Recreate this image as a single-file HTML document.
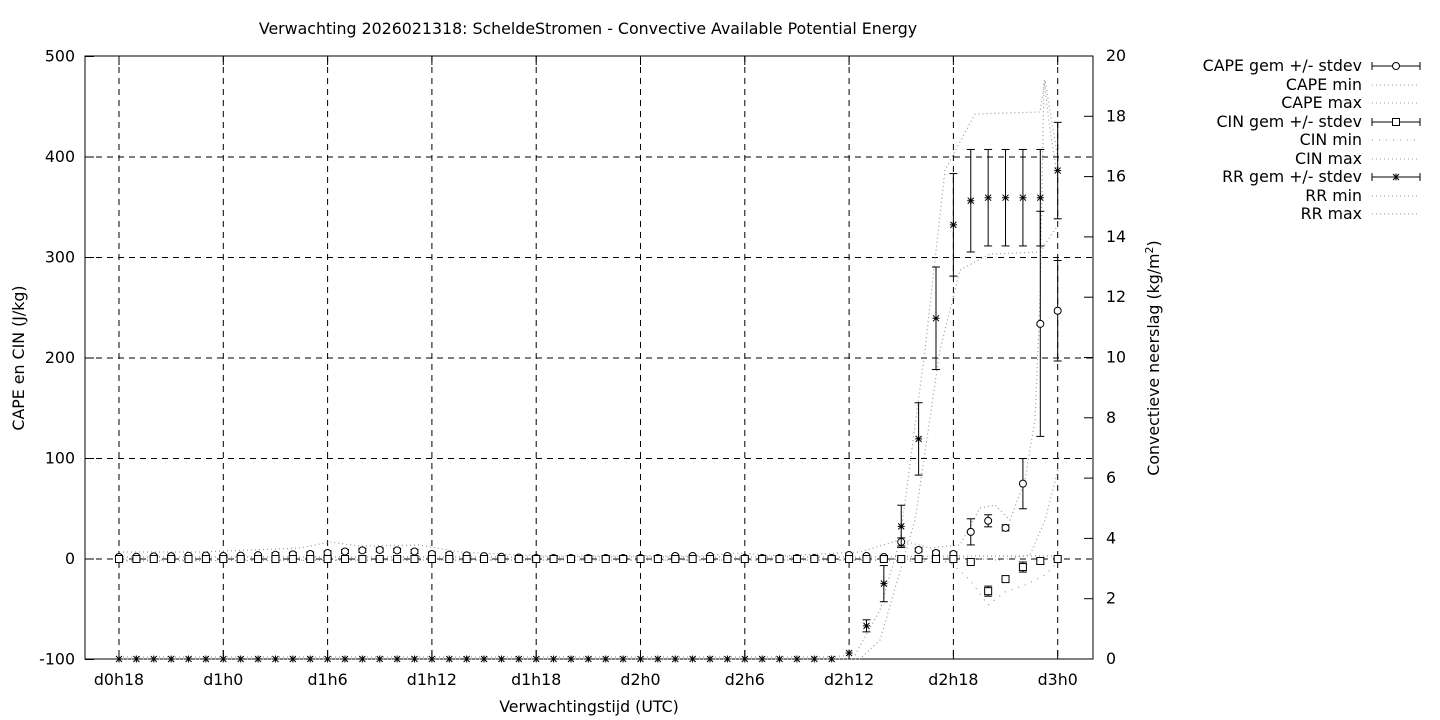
<!DOCTYPE html>
<html><head><meta charset="utf-8"><style>
html,body{margin:0;background:#fff;overflow:hidden}
svg{display:block;font-family:"DejaVu Sans","Liberation Sans",sans-serif;font-size:15.8px}
</style></head><body>
<svg id="s" width="1440" height="720" xmlns="http://www.w3.org/2000/svg">
<rect width="1440" height="720" fill="#fff"/>
<text x="588" y="34" text-anchor="middle">Verwachting 2026021318: ScheldeStromen - Convective Available Potential Energy</text>
<g id="g"></g>
<text x="589" y="712" text-anchor="middle">Verwachtingstijd (UTC)</text>
<text transform="translate(24,358) rotate(-90)" text-anchor="middle">CAPE en CIN (J/kg)</text>
<text transform="translate(1159,358) rotate(-90)" text-anchor="middle">Convectieve neerslag (kg/m<tspan dy="-6" font-size="11">2</tspan><tspan dy="6">)</tspan></text>
<g text-anchor="end">
<text x="1362" y="71">CAPE gem +/- stdev</text>
<text x="1362" y="90">CAPE min</text>
<text x="1362" y="108">CAPE max</text>
<text x="1362" y="127">CIN gem +/- stdev</text>
<text x="1362" y="145">CIN min</text>
<text x="1362" y="164">CIN max</text>
<text x="1362" y="182">RR gem +/- stdev</text>
<text x="1362" y="201">RR min</text>
<text x="1362" y="219">RR max</text>
</g>
</svg>
<script>
const g=document.getElementById('g');let h='';
const X=t=>119+(t-18)*17.383, YL=v=>559-v*1.005, YR=v=>659-v*30.15;
for(let i=0;i<10;i++){const x=119+i*104.3;h+=`<line x1="${x}" y1="56" x2="${x}" y2="659" stroke="#000" stroke-dasharray="6,5"/>`;}
for(let v=0;v<=400;v+=100){const y=YL(v);h+=`<line x1="85" y1="${y}" x2="1093" y2="${y}" stroke="#000" stroke-dasharray="6,5"/>`;}
h+=`<rect x="85" y="56" width="1008" height="603" fill="none" stroke="#000"/>`;
for(let v=-100;v<=500;v+=100){const y=YL(v);h+=`<line x1="85" y1="${y}" x2="94" y2="${y}" stroke="#000"/><text x="75" y="${y+5}" text-anchor="end">${v}</text>`;}
for(let v=0;v<=20;v+=2){const y=YR(v);h+=`<line x1="1084" y1="${y}" x2="1093" y2="${y}" stroke="#000"/><text x="1106" y="${y+5}">${v}</text>`;}
const lab=['d0h18','d1h0','d1h6','d1h12','d1h18','d2h0','d2h6','d2h12','d2h18','d3h0'];
lab.forEach((l,i)=>{const x=119+i*104.3;h+=`<line x1="${x}" y1="659" x2="${x}" y2="650" stroke="#000"/><line x1="${x}" y1="56" x2="${x}" y2="65" stroke="#000"/><text x="${x}" y="685" text-anchor="middle">${l}</text>`;});
const dl=(pts,da)=>`<polyline points="${pts}" fill="none" stroke="#999" stroke-width="1.2" stroke-dasharray="${da||'1,3'}"/>`;
h+=dl("119,552 200,552 300,548 330,542 360,546 420,545 460,552 540,556 700,556 740,553 780,556 860,552 900,540 930,548 960,545 980,508 995,505 1010,520 1025,480 1035,420 1040,300 1044,80 1050,130 1058,180");
h+=dl("119,561 400,560 860,560 960,558 1000,560 1030,555 1045,520 1058,470");
h+=dl("119,560 860,560 950,562 970,580 988,605 1005,592 1025,585 1045,575 1058,562",'1,6');
h+=dl("119,557 860,557 960,556 1058,556");
h+=dl("119,657 830,657 855,655 880,610 900,540 925,350 945,170 975,114 1040,112 1045,80 1058,160");
h+=dl("119,659 860,659 880,640 915,520 940,350 960,270 990,254 1040,252 1058,225");
const eb=(x,y1,y2)=>`<line x1="${x}" y1="${y1}" x2="${x}" y2="${y2}" stroke="#000"/><line x1="${x-4}" y1="${y1}" x2="${x+4}" y2="${y1}" stroke="#000"/><line x1="${x-4}" y1="${y2}" x2="${x+4}" y2="${y2}" stroke="#000"/>`;
const circ=(x,y)=>`<circle cx="${x}" cy="${y}" r="3.5" fill="#fff" stroke="#000"/>`;
const sq=(x,y)=>`<rect x="${x-3.5}" y="${y-3.5}" width="7" height="7" fill="#fff" stroke="#000"/>`;
const st=(x,y)=>`<path d="M${x-3.5} ${y}h7M${x} ${y-3.5}v7M${x-3} ${y-3}l6 6M${x-3} ${y+3}l6 -6" stroke="#000"/>`;
const cape={};
for(let t=18;t<=72;t++){let v=2;if(t<24)v=2+(t-18)*0.3;else if(t<30)v=3+(t-24)*0.4;else if(t<36)v=6+Math.sin((t-30)/6*Math.PI)*3;else if(t<42)v=5-(t-36)*0.7;else if(t<50)v=1;else if(t<54)v=3;else v=1;cape[t]=v;}
Object.assign(cape,{60:4,61:3,62:2,63:17,64:9,65:6,66:5,67:27,68:38,69:31,70:75,71:234,72:247});
const cerr={63:4,67:13,68:6,69:3,70:25,71:112,72:50};
const cin={67:-3,68:-32,69:-20,70:-8,71:-2,72:0};
const cinerr={68:5,69:2,70:5,71:3};
const rr={60:0.2,61:1.1,62:2.5,63:4.4,64:7.3,65:11.3,66:14.4,67:15.2,68:15.3,69:15.3,70:15.3,71:15.3,72:16.2};
const rerr={61:0.2,62:0.6,63:0.7,64:1.2,65:1.7,66:1.7,67:1.7,68:1.6,69:1.6,70:1.6,71:1.6,72:1.6};
for(let t=18;t<=72;t++){const x=X(t);
 const c=cape[t],ce=cerr[t]||(c>4?2:1);h+=eb(x,YL(c+ce),YL(Math.max(c-ce,-1)))+circ(x,YL(c));
 const n=cin[t]||0,ne=cinerr[t]||1;h+=eb(x,YL(n+ne),YL(n-ne))+sq(x,YL(n));
 const r=rr[t]||0,re=rerr[t]||0;if(re)h+=eb(x,YR(r+re),YR(r-re));h+=st(x,YR(r));}
[[66,'c'],[122,'s'],[177,'x']].forEach(([y,k])=>{h+=`<line x1="1372" y1="${y}" x2="1420" y2="${y}" stroke="#000"/><line x1="1372" y1="${y-4}" x2="1372" y2="${y+4}" stroke="#000"/><line x1="1420" y1="${y-4}" x2="1420" y2="${y+4}" stroke="#000"/>`;h+=k=='c'?circ(1396,y):k=='s'?sq(1396,y):st(1396,y);});
[85,103,140,159,196,214].forEach((y,i)=>{h+=`<line x1="1372" y1="${y}" x2="1420" y2="${y}" stroke="#999" stroke-dasharray="${i==2?'1,6':'1,3'}"/>`;});
g.innerHTML=h;
</script>
</body></html>
